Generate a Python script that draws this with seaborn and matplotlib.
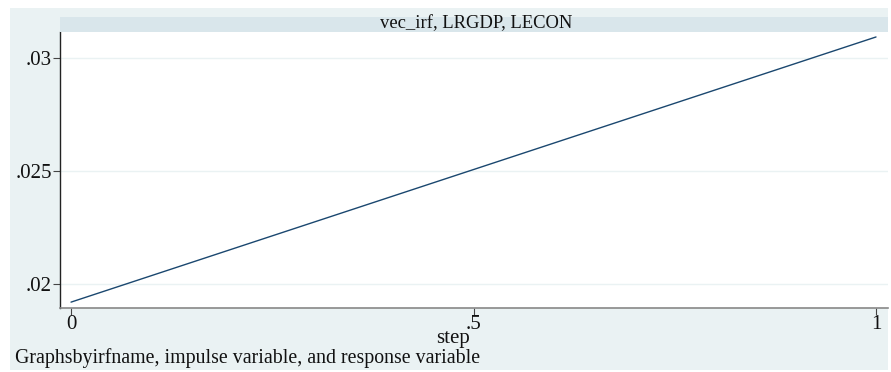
import matplotlib
matplotlib.use("Agg")
import matplotlib.pyplot as plt
import matplotlib.patches as mpatches
import seaborn as sns
import pandas as pd

# Impulse-response values
step = [0.0, 1.0]
irf = [0.0192, 0.03093]
panel_title = "vec_irf, LRGDP, LECON"
yticks = [0.02, 0.025, 0.03]
ytick_labels = [".02", ".025", ".03"]
xticks = [0, 0.5, 1]
xtick_labels = ["0", ".5", "1"]

sns.set_theme(style="white")
plt.rcParams["font.family"] = ["Liberation Serif", "DejaVu Serif"]

W, H = 891, 372
fig = plt.figure(figsize=(W / 100, H / 100), dpi=100)
fig.patch.set_facecolor("white")

# Outer graph region
bg = "#eaf2f3"
fig.add_artist(mpatches.Rectangle((10 / W, (H - 370) / H), (888 - 10) / W, (370 - 8) / H,
                                  transform=fig.transFigure, facecolor=bg,
                                  edgecolor="none", zorder=0))

left, right, top, bottom = 60, 888, 32, 308
ax = fig.add_axes([left / W, (H - bottom) / H, (right - left) / W, (bottom - top) / H])
ax.set_facecolor("white")

df = pd.DataFrame({"step": step, "irf": irf})
sns.lineplot(data=df, x="step", y="irf", ax=ax, color="#1a476f", linewidth=1.0)

ax.set_xlim(-0.0137, 1.0149)
ax.set_ylim(0.01894, 0.03115)
ax.set_yticks(yticks)
ax.set_yticklabels(ytick_labels)
ax.set_xticks(xticks)
ax.set_xticklabels(xtick_labels)
ax.grid(axis="y", color="#eaf2f3", linewidth=1.0)
ax.set_axisbelow(True)

for s in ["top", "right"]:
    ax.spines[s].set_visible(False)
ax.spines["left"].set_color("#222222")
ax.spines["left"].set_linewidth(1.0)
ax.spines["bottom"].set_color("#888888")
ax.spines["bottom"].set_linewidth(1.2)

ax.tick_params(axis="y", which="both", left=True, length=5, width=0.8,
               color="#444444", labelsize=15, pad=1, labelcolor="#111111")
ax.tick_params(axis="x", which="both", bottom=True, length=5, width=0.8,
               color="#444444", labelsize=15, pad=0, labelcolor="#111111")
ax.set_xlabel("")
ax.set_ylabel("")

# Panel title strip
fig.add_artist(mpatches.Rectangle((left / W, (H - top) / H), (right - left) / W, 15 / H,
                                  transform=fig.transFigure, facecolor="#d9e6eb",
                                  edgecolor="none", zorder=1))
fig.text((left + right) / 2 / W + 0.002, (H - 24) / H, panel_title, ha="center", va="center",
         fontsize=13.4, color="#111111")

fig.text(453 / W, (H - 338) / H, "step", ha="center", va="center", fontsize=15,
         color="#111111")
fig.text(15 / W, (H - 358) / H, "Graphsbyirfname, impulse variable, and response variable",
         ha="left", va="center", fontsize=14.3, color="#111111")

fig.savefig("out.png", dpi=100, facecolor=fig.get_facecolor())
